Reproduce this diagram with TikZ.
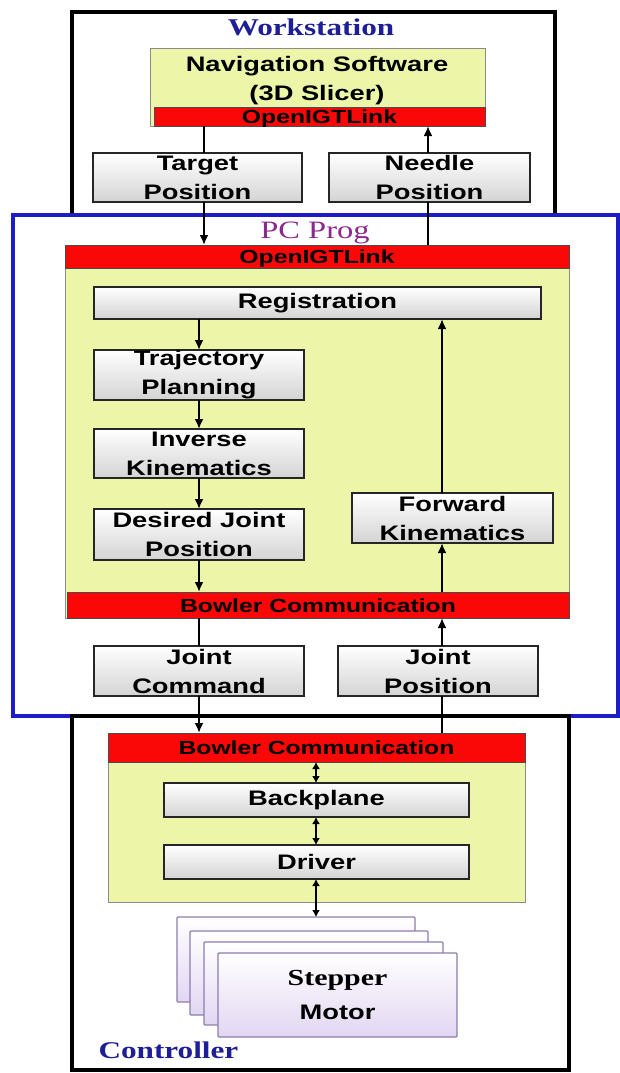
\documentclass[tikz,border=0pt]{standalone}
\usepackage{fontspec}
\newfontfamily\bx[FakeStretch=1.3]{Liberation Sans}
\newfontfamily\sr[FakeStretch=1.3]{Liberation Serif}
\usetikzlibrary{arrows.meta,calc}
\definecolor{ylw}{RGB}{237,246,168}
\definecolor{rd}{RGB}{250,8,8}
\definecolor{bl}{RGB}{28,28,200}
\definecolor{dbl}{RGB}{30,30,150}
\definecolor{prp}{RGB}{140,40,140}
\definecolor{lav}{RGB}{226,214,242}
\definecolor{lavd}{RGB}{140,125,175}
\tikzset{
  dims/.style 2 args={minimum width=#1, minimum height=#2, inner sep=0pt, outer sep=0pt},
  txt/.style={font=\bx\bfseries\fontsize{21}{29}\selectfont, align=center},
  gbox/.style={draw=black!85, line width=1.3pt, top color=white, bottom color=black!17, txt},
  ybox/.style={draw=black!45, line width=0.8pt, fill=ylw},
  rband/.style={draw=black!70, line width=0.8pt, fill=rd, font=\bx\bfseries\fontsize{19}{22}\selectfont, text height=14pt, text depth=0pt},
  sheet/.style={draw=lavd, line width=1.2pt, top color=white, bottom color=lav, rounded corners=1pt},
  conn/.style={line width=2pt, black},
  arr/.style={-{Latex[length=10pt,width=9pt]}},
  darr/.style={{Latex[length=7pt,width=8pt]}-{Latex[length=7pt,width=8pt]}},
  frame/.style={line width=4pt, line join=miter},
}
\begin{document}
\begin{tikzpicture}[x=1pt,y=-1pt]
\useasboundingbox (0,0) rectangle (619,1073);
\fill[white] (0,0) rectangle (619,1073);

% connector x positions
\coordinate (xa) at (204,0);
\coordinate (xb) at (428,0);
\coordinate (xc) at (199,0);
\coordinate (xd) at (442,0);
\coordinate (xe) at (316,0);

% ---- Workstation frame
\draw[frame] (72,215) |- (555,12) -- (555,215);
\node[font=\sr\bfseries\fontsize{24}{28}\selectfont, text=dbl, anchor=base] (wslabel) at (311,36) {Workstation};

\node[ybox, dims={335}{78}] (nav) at (317.5,87) {};
\node[rband, dims={331}{19}] (navband) at (319.5,116.5) {OpenIGTLink};
\node[txt] (navtxt) at (317,81) {Navigation Software\\(3D Slicer)};

\node[gbox, dims={209}{49}] (target) at (197.5,177.5) {Target\\Position};
\node[gbox, dims={201}{49}] (needle) at (429.5,177.5) {Needle\\Position};

% ---- PC Prog
\node[ybox, dims={504}{373}] (pc) at (317,431.5) {};
\node[rband, dims={504}{23}] (pctop) at (317,256.5) {OpenIGTLink};
\node[rband, dims={502}{26}] (pcbot) at (318,605) {Bowler Communication};

\node[gbox, dims={447}{32}] (reg) at (317.5,303) {Registration};
\node[gbox, dims={210}{50}] (traj) at (199,375) {Trajectory\\Planning};
\node[gbox, dims={210}{49}] (inv) at (199,453.5) {Inverse\\Kinematics};
\node[gbox, dims={210}{51}] (des) at (199,534.5) {Desired Joint\\Position};
\node[gbox, dims={201}{50}] (fwd) at (452.5,518) {Forward\\Kinematics};

\node[gbox, dims={210}{50}] (jcmd) at (199,671) {Joint\\Command};
\node[gbox, dims={200}{50}] (jpos) at (438,671) {Joint\\Position};

\draw[bl, line width=4pt, line join=miter] (13,215) rectangle (618,716);
\node[font=\sr\fontsize{25}{28}\selectfont, text=prp, anchor=base] (pclabel) at (315,238) {PC Prog};

% ---- Controller
\draw[frame] (72,716) rectangle (569,1070);
\node[ybox, dims={417}{169}] (ctrl) at (316.5,817.5) {};
\node[rband, dims={417}{29}] (cband) at (316.5,747.5) {Bowler Communication};
\node[gbox, dims={305}{34}] (back) at (316.5,800) {Backplane};
\node[gbox, dims={305}{34}] (drv) at (316.5,862) {Driver};

\node[sheet, dims={238}{85}] (s1) at (296,959.5) {};
\node[sheet, dims={238}{84}] (s2) at (309,973) {};
\node[sheet, dims={239}{83}] (s3) at (323.5,983.5) {};
\node[sheet, dims={239}{84}, font=\bx\bfseries\fontsize{21}{34}\selectfont, align=center] (s4) at (337.5,995)
  {{\sr\bfseries\fontsize{23}{34}\selectfont Stepper}\\Motor};

\node[font=\sr\bfseries\fontsize{24}{28}\selectfont, text=dbl, anchor=base west] (ctlabel) at (95,1058) {Controller};

% ---- connectors
\draw[conn] (nav.south -| xa) -- (target.north -| xa);
\draw[conn, arr] (target.south -| xa) -- (pctop.north -| xa);
\draw[conn] (pctop.north -| xb) -- (needle.south -| xb);
\draw[conn, arr] (needle.north -| xb) -- (nav.south -| xb);

\draw[conn, arr] (reg.south -| xc) -- (traj.north -| xc);
\draw[conn, arr] (traj.south -| xc) -- (inv.north -| xc);
\draw[conn, arr] (inv.south -| xc) -- (des.north -| xc);
\draw[conn, arr] (des.south -| xc) -- (pcbot.north -| xc);
\draw[conn, arr] (pcbot.north -| xd) -- (fwd.south -| xd);
\draw[conn, arr] (fwd.north -| xd) -- (reg.south -| xd);

\draw[conn] (pcbot.south -| xc) -- (jcmd.north -| xc);
\draw[conn, arr] (jcmd.south -| xc) -- (cband.north -| xc);
\draw[conn] (cband.north -| xd) -- (jpos.south -| xd);
\draw[conn, arr] (jpos.north -| xd) -- (pcbot.south -| xd);

\draw[conn, darr] (cband.south -| xe) -- (back.north -| xe);
\draw[conn, darr] (back.south -| xe) -- (drv.north -| xe);
\draw[conn, darr] (drv.south -| xe) -- (s1.north -| xe);
\end{tikzpicture}
\end{document}
